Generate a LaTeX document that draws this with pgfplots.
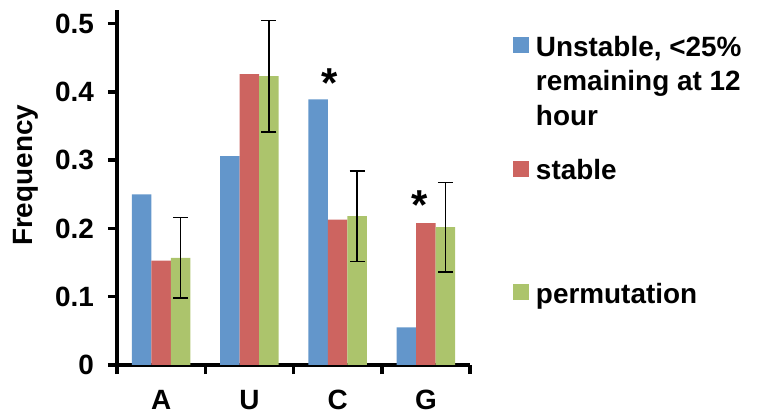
\documentclass[border=0pt]{standalone}
\usepackage{fontspec}
\setmainfont{Liberation Sans}
\usepackage{pgfplots}
\pgfplotsset{compat=1.18}
\definecolor{cblue}{HTML}{6396CB}
\definecolor{cred}{HTML}{CD6460}
\definecolor{cgreen}{HTML}{ACC46C}
\begin{document}
\begin{tikzpicture}
\begin{axis}[
  at={(117bp,53bp)}, anchor=south west,
  scale only axis, width=353bp, height=355bp,
  xmin=-0.5, xmax=3.5, ymin=0, ymax=0.52,
  enlargelimits=false,
  axis x line*=bottom, axis y line*=left,
  axis line style={line width=4bp, black},
  tick align=outside,
  xtick={0,1,2,3}, xticklabels={A,U,C,G},
  major x tick style={draw=none},
  minor xtick={-0.5,0.5,1.5,2.5,3.5},
  minor tick length=9bp,
  minor x tick style={line width=3.5bp, black},
  ytick={0,0.1,0.2,0.3,0.4,0.5},
  major tick length=9bp,
  major y tick style={line width=3.5bp, black},
  /pgf/number format/assume math mode=true,
  tick label style={font=\fontsize{28}{34}\selectfont\bfseries},
  xticklabel style={anchor=north, inner sep=0pt, yshift=-16bp},
  yticklabel style={anchor=east, inner sep=0pt, xshift=-14bp},
  ylabel={Frequency},
  every axis y label/.style={at={(axis description cs:-0.2946,0.534)}, rotate=90, anchor=north, inner sep=0pt, font=\fontsize{28}{34}\selectfont\bfseries},
  ybar=0pt, bar width=19.5bp,
  legend style={at={(axis description cs:1.1218,0.9324)}, anchor=north west, draw=none, fill=none, inner sep=0pt, outer sep=0pt, row sep=0pt, column sep=7bp, font=\fontsize{28}{35}\selectfont\bfseries, nodes={inner sep=0pt, outer sep=0pt}},
  legend cell align=left,
  legend style={cells={anchor=base west}},
]
\addplot[fill=cblue, draw=none, legend image code/.code={\path (0bp,-101.5bp) (0bp,22bp); \fill[cblue] (0bp,3bp) rectangle (16bp,19bp);}] coordinates {(0,0.250) (1,0.306) (2,0.389) (3,0.055)};
\addlegendentry{\raisebox{0pt}[22bp][101.5bp]{\parbox[t]{230bp}{Unstable, <25\%\\remaining at 12\\hour}}}
\addplot[fill=cred, draw=none, legend image code/.code={\path (0bp,-101.5bp) (0bp,22bp); \fill[cred] (0bp,3bp) rectangle (16bp,19bp);}] coordinates {(0,0.153) (1,0.426) (2,0.213) (3,0.208)};
\addlegendentry{\raisebox{0pt}[22bp][101.5bp]{stable}}
\addplot[fill=cgreen, draw=none, legend image code/.code={\path (0bp,-8bp) (0bp,22bp); \fill[cgreen] (0bp,3bp) rectangle (16bp,19bp);},
  error bars/.cd, y dir=both, y explicit,
  error bar style={line width=1.6bp, black},
  error mark options={rotate=90, line width=1.6bp, mark size=7.5bp, black}]
  coordinates {(0,0.157) +- (0,0.059) (1,0.423) +- (0,0.0815) (2,0.218) +- (0,0.0665) (3,0.202) +- (0,0.0655)};
\addlegendentry{\raisebox{0pt}[22bp][8bp]{permutation}}
\node[anchor=north, inner sep=0pt, font=\fontsize{42}{42}\selectfont\bfseries] at (axis cs:1.914,0.435) {*};
\node[anchor=north, inner sep=0pt, font=\fontsize{42}{42}\selectfont\bfseries] at (axis cs:2.933,0.256) {*};
\end{axis}
\pgfresetboundingbox
\path[use as bounding box] (0,0) rectangle (764bp,418bp);
\end{tikzpicture}
\end{document}
